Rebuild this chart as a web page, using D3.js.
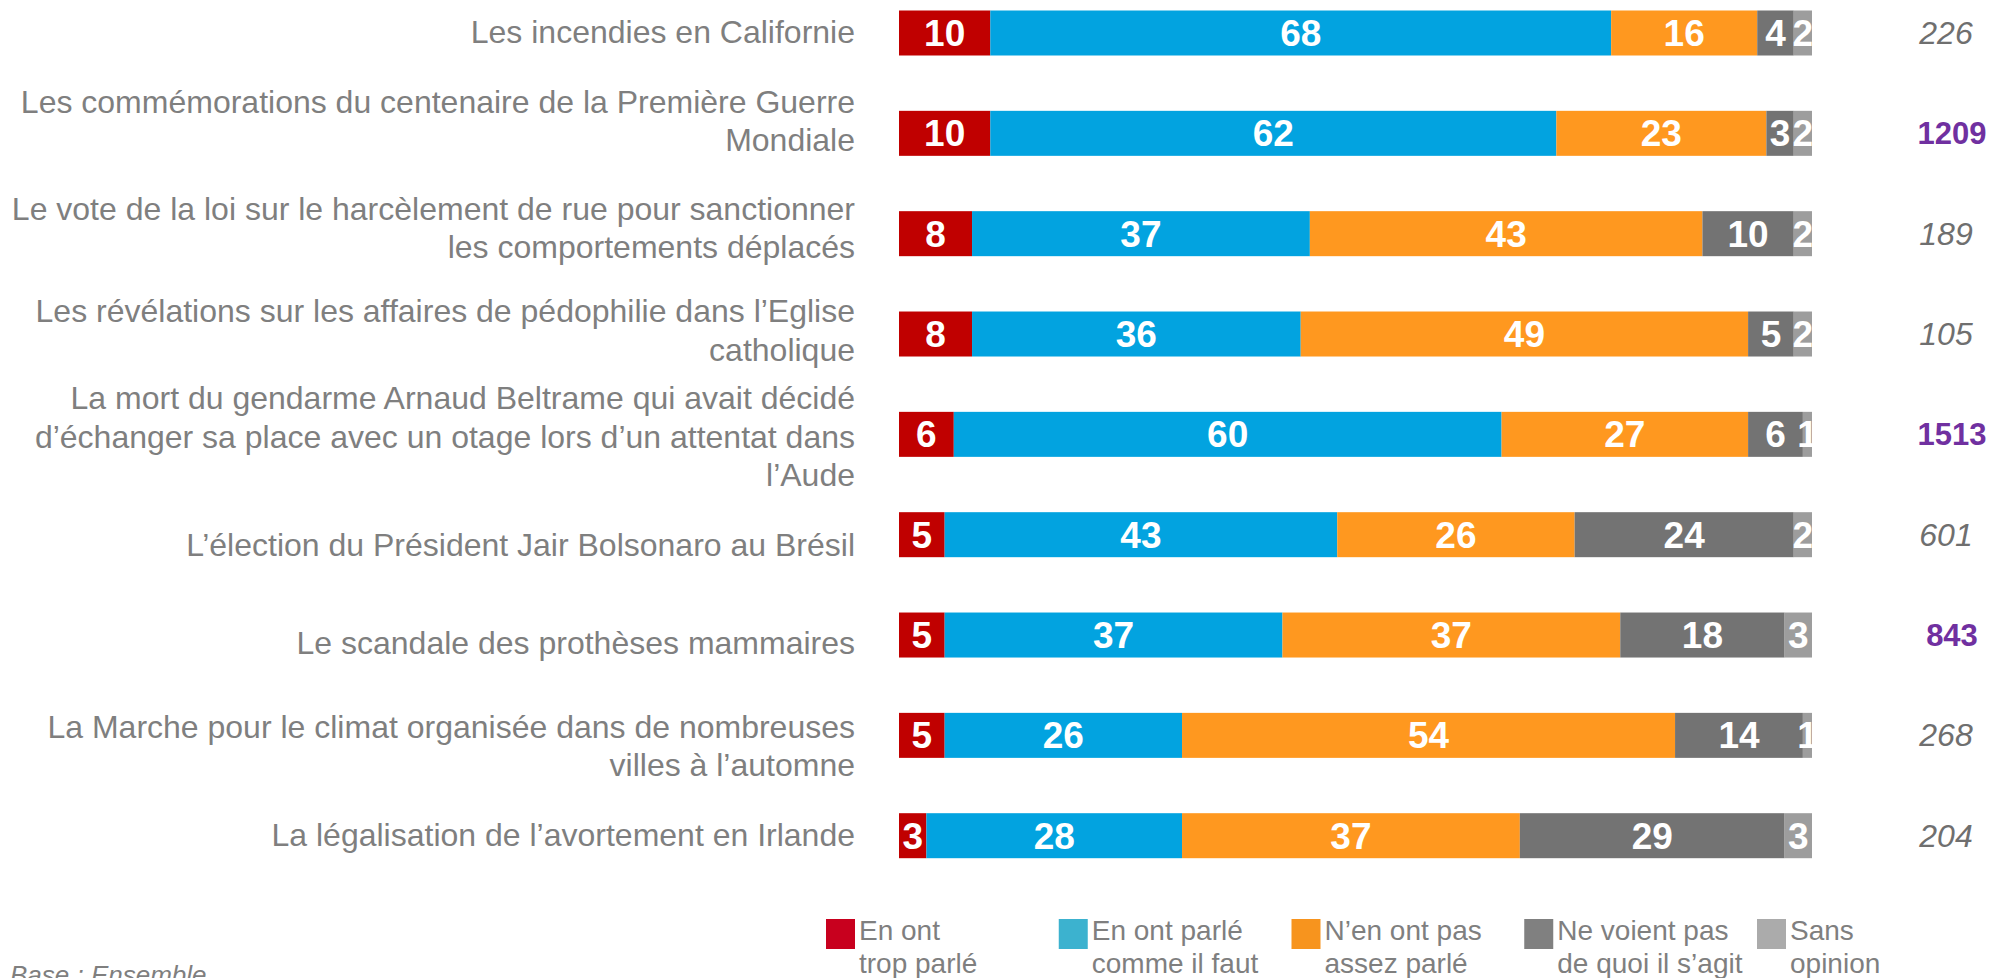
<!DOCTYPE html>
<html><head><meta charset="utf-8">
<script src="https://cdn.jsdelivr.net/npm/d3@7"></script>
<style>html,body{margin:0;padding:0;background:#fff;}svg{display:block;}</style>
</head><body>
<script>
// ---- DATA ----
const categories = [
  "Les incendies en Californie",
  "Les commémorations du centenaire de la Première Guerre\nMondiale",
  "Le vote de la loi sur le harcèlement de rue pour sanctionner\nles comportements déplacés",
  "Les révélations sur les affaires de pédophilie dans l’Eglise\ncatholique",
  "La mort du gendarme Arnaud Beltrame qui avait décidé\nd’échanger sa place avec un otage lors d’un attentat dans\nl’Aude",
  "L’élection du Président Jair Bolsonaro au Brésil",
  "Le scandale des prothèses mammaires",
  "La Marche pour le climat organisée dans de nombreuses\nvilles à l’automne",
  "La légalisation de l’avortement en Irlande"
];
const seriesNames = ["En ont\ntrop parlé", "En ont parlé\ncomme il faut", "N’en ont pas\nassez parlé", "Ne voient pas\nde quoi il s’agit", "Sans\nopinion"];
const tropParle     = [10, 10, 8, 8, 6, 5, 5, 5, 3];
const commeIlFaut   = [68, 62, 37, 36, 60, 43, 37, 26, 28];
const pasAssez      = [16, 23, 43, 49, 27, 26, 37, 54, 37];
const neVoientPas   = [4, 3, 10, 5, 6, 24, 18, 14, 29];
const sansOpinion   = [2, 2, 2, 2, 1, 2, 3, 1, 3];
const bases         = [226, 1209, 189, 105, 1513, 601, 843, 268, 204];
const baseHighlight = [false, true, false, false, true, false, true, false, false];
const footnote = "Base : Ensemble";

// ---- LAYOUT / STYLE ----
const W = 1990, H = 978;
const barColors = ["#C00000", "#02A3E0", "#FF981F", "#737373", "#9D9D9D"];
const legendColors = ["#C8001E", "#3CB2CF", "#F7941E", "#808080", "#ABABAB"];
const labelShift = [-1, -13, -6, -4, 2, 10, 8, 10, -1];
const series = [tropParle, commeIlFaut, pasAssez, neVoientPas, sansOpinion];

const svg = d3.select("body").append("svg").attr("width", W).attr("height", H)
  .style("font-family", "'Liberation Sans', Arial, sans-serif");

const x = d3.scaleLinear().domain([0, 100]).range([899, 1812]);
const y = d3.scalePoint().domain(d3.range(categories.length)).range([33, 835.7]);
const barH = 45;

const rows = categories.map((c, i) => {
  let acc = 0;
  return series.map((s, k) => { const v = s[i]; const seg = {row: i, k, v, x0: acc, x1: acc + v}; acc += v; return seg; });
});

svg.append("defs").append("clipPath").attr("id", "barclip")
  .append("rect").attr("x", x(0)).attr("y", 0).attr("width", x(100) - x(0)).attr("height", H);

const gBars = svg.append("g");
rows.forEach(segs => {
  gBars.selectAll(null).data(segs).enter().append("rect")
    .attr("x", d => x(d.x0)).attr("width", d => x(d.x1) - x(d.x0))
    .attr("y", d => y(d.row) - barH / 2).attr("height", barH)
    .attr("fill", d => barColors[d.k]);
});
const gVals = svg.append("g").attr("clip-path", "url(#barclip)");
const valFs = 37;
rows.forEach(segs => {
  gVals.selectAll(null).data(segs).enter().append("text")
    .attr("x", d => (x(d.x0) + x(d.x1)) / 2)
    .attr("y", d => y(d.row) + valFs * 0.355)
    .attr("text-anchor", "middle").attr("fill", "#fff")
    .attr("font-weight", "bold").attr("font-size", valFs)
    .text(d => d.v);
});

// category labels
const labFs = 32, lineH = 38.4, capH = labFs * 0.716;
const gLab = svg.append("g");
categories.forEach((c, i) => {
  const lines = c.split("\n");
  const blockH = (lines.length - 1) * lineH + capH;
  const center = y(i) + labelShift[i];
  const firstBase = center - blockH / 2 + capH;
  const t = gLab.append("text").attr("text-anchor", "end").attr("font-size", labFs).attr("fill", "#7F7F7F");
  lines.forEach((ln, j) => t.append("tspan").attr("x", 855).attr("y", firstBase + j * lineH).text(ln));
});

// base numbers
svg.append("g").selectAll("text").data(bases).enter().append("text")
  .attr("x", (d, i) => baseHighlight[i] ? 1952 : 1946).attr("y", (d, i) => y(i) + 11)
  .attr("text-anchor", "middle")
  .attr("font-size", (d, i) => baseHighlight[i] ? 31 : 32)
  .attr("font-style", (d, i) => baseHighlight[i] ? "normal" : "italic")
  .attr("font-weight", (d, i) => baseHighlight[i] ? "bold" : "normal")
  .attr("fill", (d, i) => baseHighlight[i] ? "#7030A0" : "#6F6F6F")
  .text(d => d);

// legend
const lg = svg.append("g");
const legX = d3.scalePoint().domain(d3.range(seriesNames.length)).range([826, 1757]);
seriesNames.forEach((n, k) => {
  lg.append("rect").attr("x", legX(k)).attr("y", 919).attr("width", 29).attr("height", 30).attr("fill", legendColors[k]);
  const t = lg.append("text").attr("font-size", 28).attr("fill", "#7F7F7F");
  n.split("\n").forEach((ln, j) => t.append("tspan").attr("x", legX(k) + 33).attr("y", 940 + j * 33).text(ln));
});

// footnote
svg.append("text").attr("x", 10).attr("y", 984).attr("font-size", 26).attr("font-style", "italic")
  .attr("fill", "#7F7F7F").text(footnote);
</script>
</body></html>
